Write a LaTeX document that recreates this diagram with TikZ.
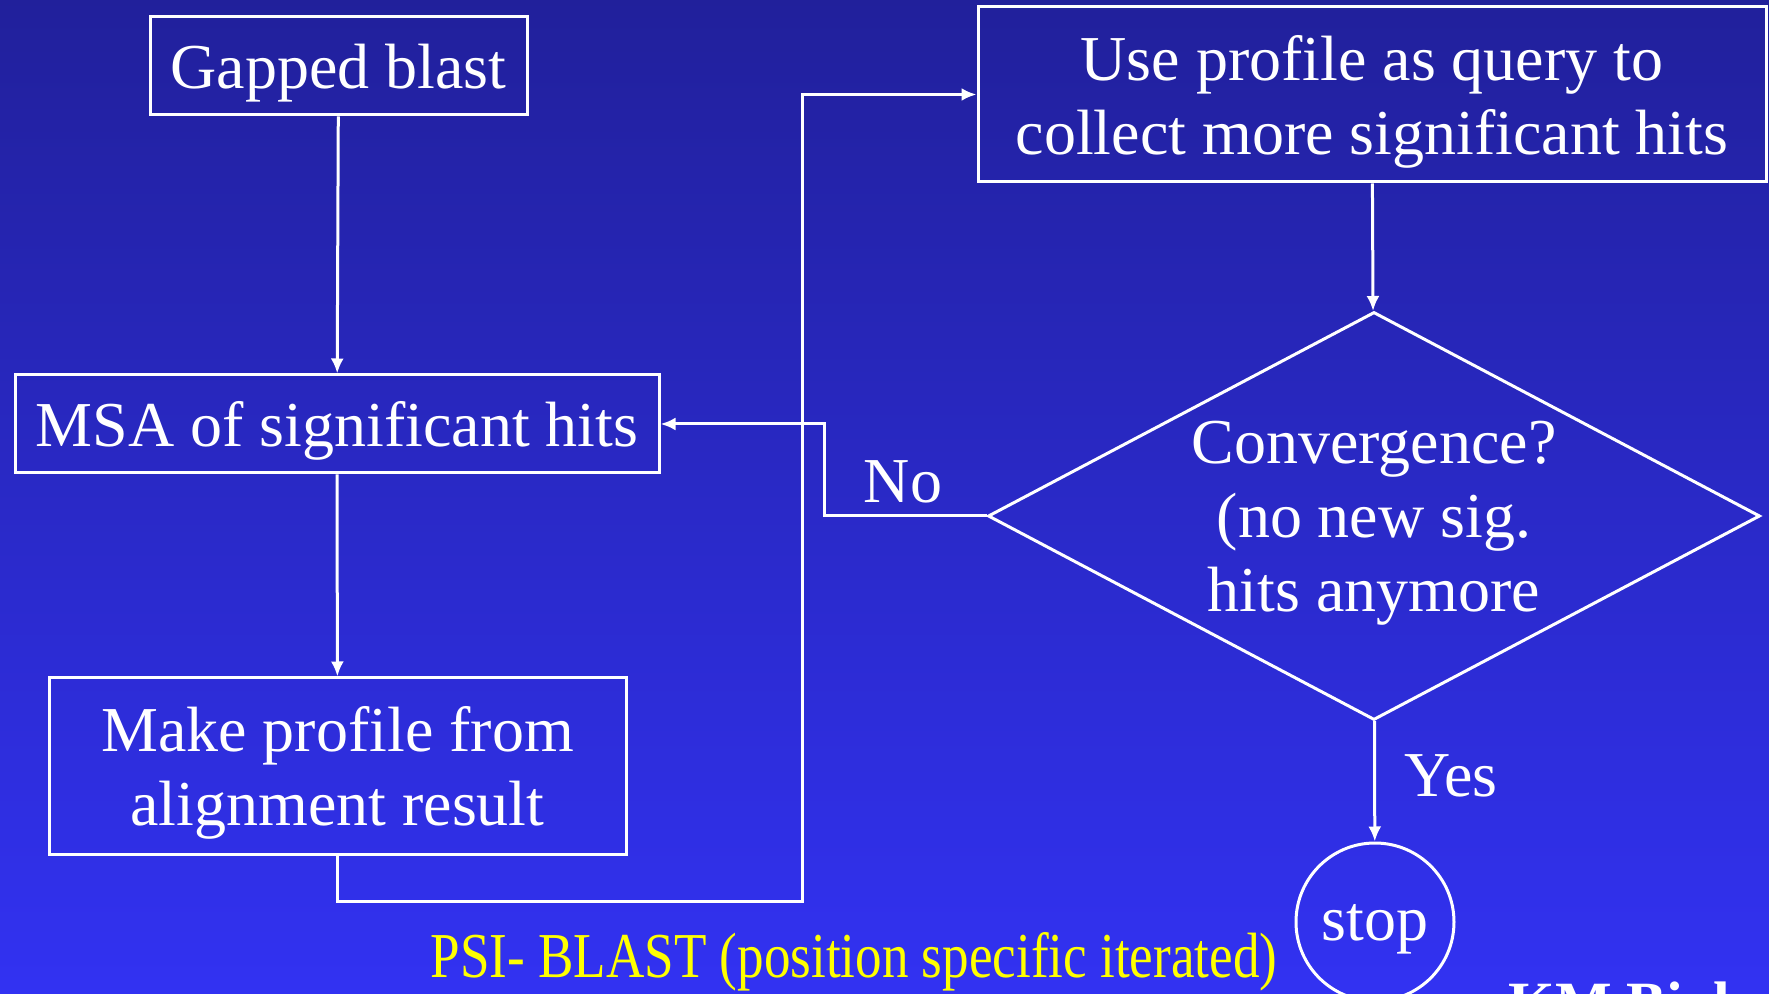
\documentclass[tikz,border=0pt]{standalone}
\usepackage{fontspec}
\setmainfont{Liberation Serif}
\newfontfamily\narrowserif[FakeStretch=0.83]{Liberation Serif}
\usepackage{tikz}
\usetikzlibrary{arrows.meta,shapes.geometric}
\definecolor{bgtop}{RGB}{33,32,155}
\definecolor{bgbottom}{RGB}{50,50,242}
\definecolor{psiyellow}{RGB}{255,255,0}

\begin{document}
\begin{tikzpicture}[x=0.5pt,y=-0.5pt]
        \tikzset{box/.style = {shape=rectangle,draw=white,line width=1.5pt,text=white,inner sep=0pt,text depth=0pt,align=center,font=\fontsize{32}{37}\selectfont}}
        \tikzset{lbl/.style = {text=white,inner sep=0pt,font=\fontsize{32}{37}\selectfont}}
        \tikzset{edge/.style = {-{Latex[length=7.5pt,width=6.5pt]},draw=white,line width=1.5pt}}
        % background
        \useasboundingbox (0,0) rectangle (1769,994);
        \clip (0,0) rectangle (1769,994);
        \shade[top color=bgtop,bottom color=bgbottom] (0,0) rectangle (1769,994);
        % vertices
        \node[box,minimum width=377*0.5pt,minimum height=98*0.5pt] (gapped) at (338.5,66) {Gapped blast};
        \node[box,minimum width=644*0.5pt,minimum height=98*0.5pt] (msa) at (337,424) {MSA of significant hits};
        \node[box,minimum width=577*0.5pt,minimum height=176*0.5pt] (profile) at (337.5,766) {Make profile from\\alignment result};
        \node[box,minimum width=788*0.5pt,minimum height=175*0.5pt] (query) at (1372,94.5) {Use profile as query to\\collect more significant hits};
        \node[box,shape=diamond,shape aspect=1.89,minimum width=772*0.5pt,minimum height=408*0.5pt] (conv) at (1374,516) {Convergence?\\(no new sig.\\hits anymore};
        \node[box,shape=circle,minimum size=158*0.5pt] (stop) at (1375,922) {stop};
        \coordinate (loopdn) at (802,901);
        \coordinate (nobend) at (824,424);
        % labels
        \node[lbl] (no) at (903,482) {No};
        \node[lbl] (yes) at (1451,776) {Yes};
        \node[text=psiyellow,inner sep=0pt,font=\narrowserif\fontsize{32}{36}\selectfont] (title) at (854,962) {PSI- BLAST (position specific iterated)};
        \node[text=white,inner sep=0pt,anchor=north west,font=\bfseries\fontsize{30}{34}\selectfont] (credit) at (1508,981) {KM Biol};
        %edges
        \draw[edge] (gapped) -- (msa);
        \draw[edge] (msa) -- (profile);
        \draw[edge] (profile.south) |- (loopdn) |- (query.west);
        \draw[edge] (query) -- (conv);
        \draw[edge] (conv.west) -| (nobend) -- (msa.east);
        \draw[edge] (conv) -- (stop);

    \end{tikzpicture}
\end{document}
